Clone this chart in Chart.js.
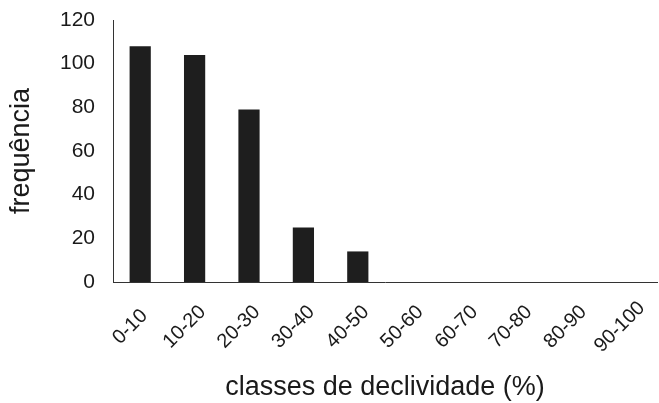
<!DOCTYPE html>
<html>
<head>
<meta charset="utf-8">
<script src="https://cdn.jsdelivr.net/npm/chart.js@4/dist/chart.umd.min.js"></script>
<style>
    html, body { margin: 0; padding: 0; background: #fff; }
    #wrap { width: 659px; height: 403px; }
</style>
</head>
<body>
<div id="wrap"><canvas id="grafico"></canvas></div>
<script>
// classes de declividade e frequências
var classes = ['0-10', '10-20', '20-30', '30-40', '40-50', '50-60', '60-70', '70-80', '80-90', '90-100'];
var frequencia = [108, 104, 79, 25, 14, 0, 0, 0, 0, 0];
var ticksY = [0, 20, 40, 60, 80, 100, 120];

var fonte = 'Arial, "Liberation Sans", sans-serif';
var corTexto = '#1a1a1a';

// rótulos do eixo x girados 45° e centrados em cada classe (estilo Excel)
var rotulosX = {
    id: 'rotulosX',
    afterDraw: function (chart) {
        var ctx = chart.ctx;
        var eixo = chart.scales.x;
        ctx.save();
        ctx.font = '20px ' + fonte;
        ctx.fillStyle = corTexto;
        ctx.textAlign = 'center';
        ctx.textBaseline = 'middle';
        eixo.ticks.forEach(function (t, i) {
            var px = eixo.getPixelForTick(i) - 10;
            var py = eixo.top + 45;
            ctx.save();
            ctx.translate(px, py);
            ctx.rotate(-Math.PI / 4);
            ctx.fillText(classes[i], 0, 0);
            ctx.restore();
        });
        ctx.restore();
    }
};

var ctx = document.getElementById('grafico').getContext('2d');
var chart = new Chart(ctx, {
    type: 'bar',
    data: {
        labels: classes,
        datasets: [{
            label: 'frequência',
            data: frequencia,
            backgroundColor: '#1e1e1e',
            borderWidth: 0,
            barPercentage: 0.39,
            categoryPercentage: 1
        }]
    },
    plugins: [rotulosX],
    options: {
        responsive: true,
        maintainAspectRatio: false,
        animation: false,
        layout: {
            padding: { top: 20, right: 2, bottom: 0, left: 0 }
        },
        plugins: {
            legend: { display: false },
            tooltip: { enabled: false }
        },
        scales: {
            x: {
                grid: { display: false, drawTicks: false },
                border: { display: true, color: '#333', width: 1 },
                ticks: { display: false },
                title: {
                    display: true,
                    text: 'classes de declividade (%)',
                    color: corTexto,
                    font: { family: fonte, size: 27, lineHeight: 1 },
                    padding: { top: 0, bottom: 2 }
                },
                afterFit: function (scale) { scale.height = 121; }
            },
            y: {
                min: 0,
                max: 120,
                afterBuildTicks: function (scale) {
                    scale.ticks = ticksY.map(function (v) { return { value: v }; });
                },
                grid: { display: false, drawTicks: false },
                border: { display: true, color: '#333', width: 1 },
                ticks: {
                    color: corTexto,
                    font: { family: fonte, size: 21 },
                    padding: 18
                },
                title: {
                    display: true,
                    text: 'frequência',
                    color: corTexto,
                    font: { family: fonte, size: 27, lineHeight: 1 },
                    padding: { top: 8, bottom: 0 }
                },
                afterFit: function (scale) {
                    scale.width = 113;
                    scale.paddingTop = 0;
                    scale.paddingBottom = 0;
                }
            }
        }
    }
});
</script>
</body>
</html>
